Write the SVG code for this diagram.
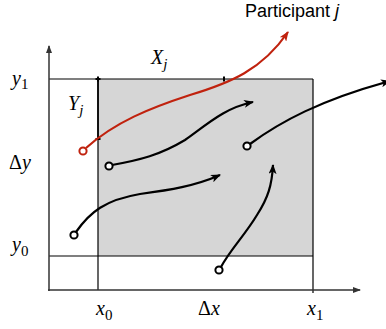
<svg xmlns="http://www.w3.org/2000/svg" width="386" height="329" viewBox="0 0 386 329">
<defs>
<style>
.ax{stroke:#333;stroke-width:1.5;fill:none}
.ln{stroke:#000;stroke-width:1.2;fill:none}
.seg{stroke:#000;stroke-width:1.6;fill:none}
.tr{stroke:#000;stroke-width:2.2;fill:none}
.red{stroke:#c0220e;stroke-width:2.2;fill:none}
.st{fill:#fff;stroke:#000;stroke-width:2}
.stR{fill:#fff;stroke:#c0220e;stroke-width:2}
.m{font-family:"Liberation Serif","Times New Roman",serif;font-style:italic;font-size:20px;fill:#000}
.m .s{font-style:normal;font-size:15px}
.m .si{font-style:italic;font-size:15px}
.lab{font-family:"Liberation Sans",Arial,sans-serif;font-size:18px;fill:#000}
</style>
<marker id="ah" viewBox="0 0 10 8" markerWidth="10" markerHeight="8" refX="9" refY="4" orient="auto" markerUnits="userSpaceOnUse">
<path d="M0,0 L10,4 L0,8 L2.5,4 z" fill="#000"/>
</marker>
<marker id="ahR" viewBox="0 0 10 8" markerWidth="10" markerHeight="8" refX="9" refY="4" orient="auto" markerUnits="userSpaceOnUse">
<path d="M0,0 L10,4 L0,8 L2.5,4 z" fill="#c0220e"/>
</marker>
<marker id="ahA" viewBox="0 0 8 6" markerWidth="8" markerHeight="6" refX="7" refY="3" orient="auto" markerUnits="userSpaceOnUse">
<path d="M0,0 L8,3 L0,6 z" fill="#333"/>
</marker>
</defs>

<g id="region">
<rect x="98" y="79" width="215" height="177" fill="#d6d6d6"/>
<line class="ln" x1="49" y1="79" x2="313" y2="79"/>
<line class="ln" x1="49" y1="256" x2="313" y2="256"/>
<line class="ln" x1="98" y1="79" x2="98" y2="290"/>
<line class="ln" x1="313" y1="79" x2="313" y2="293"/>
<line class="seg" x1="98" y1="79" x2="98" y2="139"/>
<path d="M98,76.5 V81.5 M95.5,79 H100.5 M224,76.5 V81.5 M95.5,139 H100.5" stroke="#000" stroke-width="2"/>
</g>

<g id="axes">
<line class="ax" x1="49" y1="291" x2="49" y2="46" marker-end="url(#ahA)"/>
<line class="ax" x1="48" y1="290" x2="360" y2="290" marker-end="url(#ahA)"/>
</g>

<g id="connectors">
<path class="red" d="M86,148 C115,122 150,108 190,95 C230,83 262,70 288,32" marker-end="url(#ahR)"/>
<path class="tr" d="M112,165 C140,160 160,155 185,140 C210,122 225,108 253,102" marker-end="url(#ah)"/>
<path class="tr" d="M76,232 C90,212 105,200 140,194 C170,190 195,186 220,175" marker-end="url(#ah)"/>
<path class="tr" d="M250,144 C280,122 320,100 390,81" marker-end="url(#ah)"/>
<path class="tr" d="M221,267 C230,250 245,235 257,215 C268,198 272,185 273,165" marker-end="url(#ah)"/>
</g>

<g id="p-j"><circle class="stR" cx="83" cy="151" r="3.6"/></g>
<g id="p1"><circle class="st" cx="109" cy="166" r="3.6"/></g>
<g id="p2"><circle class="st" cx="74" cy="235" r="3.6"/></g>
<g id="p3"><circle class="st" cx="247" cy="146" r="3.6"/></g>
<g id="p4"><circle class="st" cx="219" cy="270" r="3.6"/></g>

<g id="labels">
<text class="lab" x="245" y="17">Participant <tspan font-style="italic">j</tspan></text>
<text class="m" x="151" y="64">X<tspan class="si" dy="5">j</tspan></text>
<text class="m" x="68" y="110">Y<tspan class="si" dy="5">j</tspan></text>
<text class="m" x="12" y="85">y<tspan class="s" dy="4">1</tspan></text>
<text class="m" x="9" y="169"><tspan font-style="normal">Δ</tspan>y</text>
<text class="m" x="12" y="251">y<tspan class="s" dy="5">0</tspan></text>
<text class="m" x="96" y="315">x<tspan class="s" dy="5">0</tspan></text>
<text class="m" x="198" y="315"><tspan font-style="normal">Δ</tspan>x</text>
<text class="m" x="307" y="315">x<tspan class="s" dy="5">1</tspan></text>
</g>
</svg>
